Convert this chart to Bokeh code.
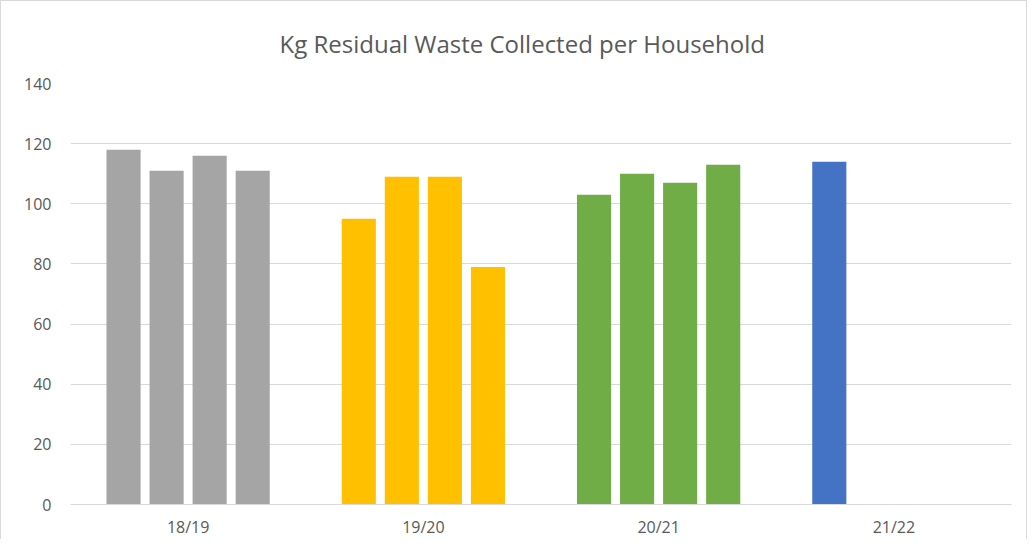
from bokeh.plotting import figure
from bokeh.models import FactorRange, SingleIntervalTicker, Range1d
from bokeh.transform import dodge
from bokeh.embed import file_html
from bokeh.resources import INLINE

title_text = "Kg Residual Waste Collected per Household"
years = ["18/19", "19/20", "20/21", "21/22"]
colors = ["#A5A5A5", "#FFC000", "#70AD47", "#4472C4"]
q1 = [118, 95, 103, 114]
q2 = [111, 109, 110, None]
q3 = [116, 109, 107, None]
q4 = [111, 79, 113, None]
quarters = [q1, q2, q3, q4]
offsets = [-0.2745, -0.0915, 0.0915, 0.2745]

p = figure(x_range=FactorRange(*years), y_range=Range1d(0, 140),
           width=1027, height=539, output_backend="svg", toolbar_location=None,
           title=title_text,
           min_border_left=69, min_border_right=17, min_border_bottom=33,
           min_border_top=81)

for q, off in zip(quarters, offsets):
    xs = [y for y, v in zip(years, q) if v is not None]
    tops = [v for v in q if v is not None]
    cols = [c for c, v in zip(colors, q) if v is not None]
    p.vbar(x=dodge("x", off, range=p.x_range), top="top", width=0.145,
           color="color", line_color=None,
           source=dict(x=xs, top=tops, color=cols))

p.title.align = "left"
p.title.offset = 209
p.title.standoff = 47
p.title.text_font = "Open Sans"
p.title.text_font_size = "24px"
p.title.text_font_style = "normal"
p.title.text_color = "#595959"

p.yaxis.ticker = SingleIntervalTicker(interval=20)
p.ygrid.grid_line_color = "#D9D9D9"
p.xgrid.grid_line_color = None
p.yaxis.axis_line_color = None
p.yaxis.major_tick_line_color = None
p.yaxis.minor_tick_line_color = None
p.yaxis.major_label_standoff = 13
p.xaxis.axis_line_color = "#D9D9D9"
p.xaxis.major_tick_line_color = None
p.xaxis.minor_tick_line_color = None
p.xaxis.major_label_standoff = 5
for ax in (p.xaxis, p.yaxis):
    ax.major_label_text_font = "Open Sans"
    ax.major_label_text_font_size = "16px"
    ax.major_label_text_color = "#595959"
p.outline_line_color = None
p.styles = {"border": "1px solid #D9D9D9", "border-bottom": "none"}

open("out.html", "w").write(file_html(p, INLINE))
